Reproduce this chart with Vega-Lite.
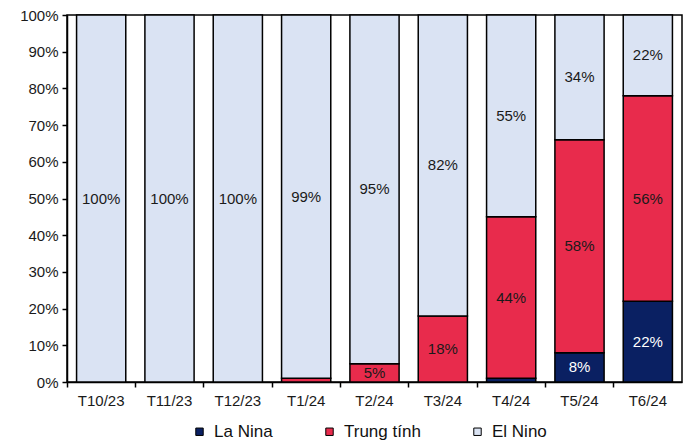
{
  "$schema": "https://vega.github.io/schema/vega-lite/v6.json",
  "width": 615,
  "height": 367,
  "autosize": {"type": "none"},
  "padding": {"left": 67, "top": 15, "right": 12, "bottom": 62},
  "background": "white",
  "config": {
    "font": "Liberation Sans",
    "view": {"stroke": "black", "strokeWidth": 1.5},
    "axis": {"grid": false, "domainColor": "black", "domainWidth": 1.5, "tickColor": "black", "tickWidth": 1.5, "tickSize": 5, "labelFont": "Liberation Sans", "labelFontSize": 15, "labelColor": "#1a1a1a", "title": null},
    "axisY": {"labelOverlap": false, "labelPadding": 4}
  },
  "data": {
    "values": [
      {"month": "T10/23", "type": "La Nina", "value": 0},
      {"month": "T10/23", "type": "Trung tính", "value": 0},
      {"month": "T10/23", "type": "El Nino", "value": 100},
      {"month": "T11/23", "type": "La Nina", "value": 0},
      {"month": "T11/23", "type": "Trung tính", "value": 0},
      {"month": "T11/23", "type": "El Nino", "value": 100},
      {"month": "T12/23", "type": "La Nina", "value": 0},
      {"month": "T12/23", "type": "Trung tính", "value": 0},
      {"month": "T12/23", "type": "El Nino", "value": 100},
      {"month": "T1/24", "type": "La Nina", "value": 0},
      {"month": "T1/24", "type": "Trung tính", "value": 1},
      {"month": "T1/24", "type": "El Nino", "value": 99},
      {"month": "T2/24", "type": "La Nina", "value": 0},
      {"month": "T2/24", "type": "Trung tính", "value": 5},
      {"month": "T2/24", "type": "El Nino", "value": 95},
      {"month": "T3/24", "type": "La Nina", "value": 0},
      {"month": "T3/24", "type": "Trung tính", "value": 18},
      {"month": "T3/24", "type": "El Nino", "value": 82},
      {"month": "T4/24", "type": "La Nina", "value": 1},
      {"month": "T4/24", "type": "Trung tính", "value": 44},
      {"month": "T4/24", "type": "El Nino", "value": 55},
      {"month": "T5/24", "type": "La Nina", "value": 8},
      {"month": "T5/24", "type": "Trung tính", "value": 58},
      {"month": "T5/24", "type": "El Nino", "value": 34},
      {"month": "T6/24", "type": "La Nina", "value": 22},
      {"month": "T6/24", "type": "Trung tính", "value": 56},
      {"month": "T6/24", "type": "El Nino", "value": 22}
    ]
  },
  "transform": [
    {"filter": "datum.value > 0"},
    {"calculate": "indexof(['La Nina', 'Trung tính', 'El Nino'], datum.type)", "as": "rank"},
    {"stack": "value", "groupby": ["month"], "sort": [{"field": "rank", "order": "ascending"}], "as": ["v0", "v1"]},
    {"calculate": "(datum.v0 + datum.v1) / 2", "as": "mid"},
    {"calculate": "datum.value + '%'", "as": "label"}
  ],
  "encoding": {
    "x": {
      "field": "month",
      "type": "nominal",
      "sort": null,
      "scale": {"paddingInner": 0, "paddingOuter": 0},
      "axis": {"labelAngle": 0, "bandPosition": 0, "labelPadding": 6}
    }
  },
  "layer": [
    {
      "mark": {"type": "bar", "width": {"band": 0.72}, "stroke": "black", "strokeWidth": 1.5},
      "encoding": {
        "y": {
          "field": "v0",
          "type": "quantitative",
          "scale": {"domain": [0, 100], "nice": false},
          "axis": {"values": [0, 10, 20, 30, 40, 50, 60, 70, 80, 90, 100], "labelExpr": "datum.value + '%'", "labelOverlap": false}
        },
        "y2": {"field": "v1"},
        "color": {
          "field": "type",
          "type": "nominal",
          "scale": {"domain": ["La Nina", "Trung tính", "El Nino"], "range": ["#0A2062", "#E82B4C", "#DAE3F3"]},
          "legend": {
            "title": null,
            "orient": "none",
            "direction": "horizontal",
            "legendX": 124,
            "legendY": 408,
            "padding": 0,
            "symbolType": "square",
            "symbolSize": 55,
            "symbolStrokeColor": "black",
            "symbolStrokeWidth": 1,
            "labelFont": "Liberation Sans",
            "labelFontSize": 17,
            "labelColor": "#111111",
            "labelOffset": 6,
            "columnPadding": 48
          }
        }
      }
    },
    {
      "transform": [{"filter": "datum.value >= 2"}],
      "mark": {"type": "text", "font": "Liberation Sans", "fontSize": 15, "baseline": "middle"},
      "encoding": {
        "y": {
          "field": "mid",
          "type": "quantitative",
          "axis": {"values": [0, 10, 20, 30, 40, 50, 60, 70, 80, 90, 100], "labelExpr": "datum.value + '%'", "labelOverlap": false}
        },
        "text": {"field": "label", "type": "nominal"},
        "color": {
          "condition": {"test": "datum.type === 'La Nina'", "value": "white"},
          "value": "#1a1a1a"
        }
      }
    }
  ]
}
